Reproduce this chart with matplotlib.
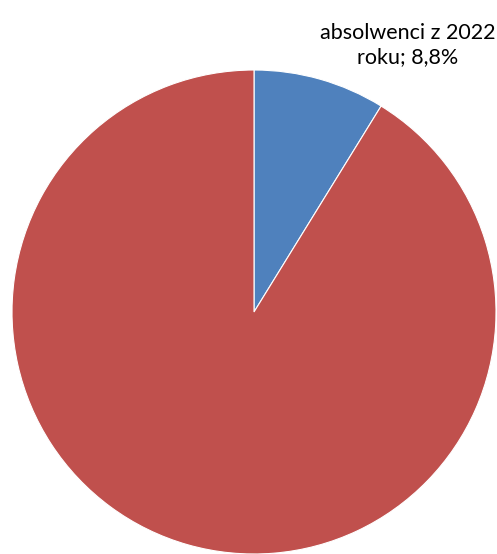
import matplotlib
matplotlib.use("Agg")
import matplotlib.pyplot as plt

# share of graduates
categories = ["absolwenci z 2022 roku", "pozostali"]
shares = [8.8, 91.2]
colors = ["#4F81BD", "#C0504D"]
shown_labels = ["absolwenci z 2022\nroku; 8,8%", ""]

W, H, DPI = 497, 554, 100
fig = plt.figure(figsize=(W / DPI, H / DPI), dpi=DPI)

cx, cy, r = 254, 312, 242
ax = fig.add_axes([(cx - r) / W, (H - cy - r) / H, 2 * r / W, 2 * r / H])
ax.pie(shares, colors=colors, startangle=90, counterclock=False, radius=1,
       wedgeprops=dict(edgecolor="white", linewidth=0.8))
ax.set_xlim(-1, 1)
ax.set_ylim(-1, 1)
ax.set_aspect("equal")
ax.axis("off")

fig.text(408 / W, 1 - 45 / H, shown_labels[0], ha="center", va="center",
         fontsize=15.5, family="Lato", color="#000000", linespacing=1.25)

fig.savefig("out.png", dpi=DPI)
